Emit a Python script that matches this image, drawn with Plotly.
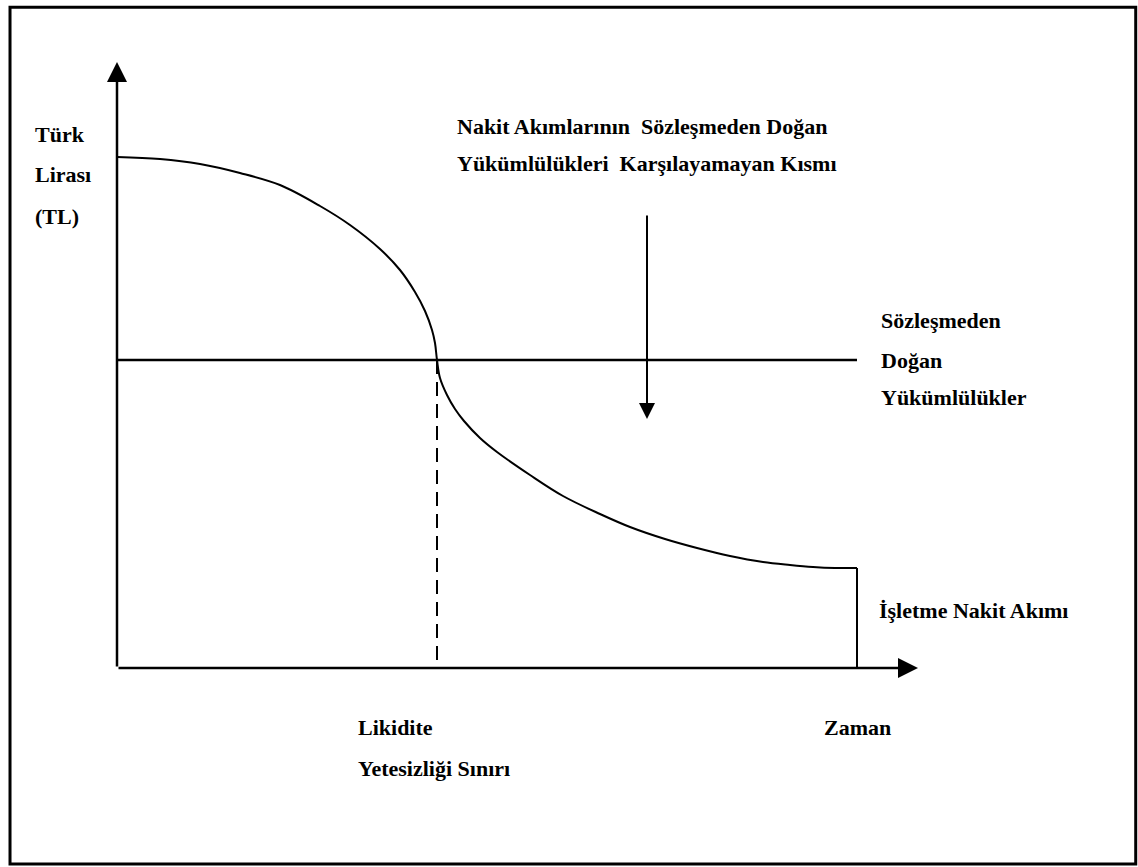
import plotly.graph_objects as go

# Operating cash flow curve (time, TL), arbitrary units
flow_time = [0.0, 4.3, 8.3, 12.3, 16.3, 20.3, 23.3, 26.3, 28.3, 29.8, 30.8, 31.5, 31.8, 32.0,
             32.3, 33.0, 33.8, 34.7, 36.3, 38.0, 41.3, 44.6, 48.3, 51.3, 54.8, 58.0,
             61.3, 64.6, 67.3, 69.6, 71.8, 74.0]
flow_tl = [51.1, 50.9, 50.4, 49.5, 48.3, 46.2, 44.3, 41.9, 39.8, 37.6, 35.7, 33.8, 32.5, 30.8,
           29.0, 27.3, 25.9, 24.7, 23.0, 21.6, 19.3, 17.2, 15.4, 14.1, 12.9, 12.0,
           11.2, 10.6, 10.3, 10.1, 10.0, 10.0]

obligation_level = 30.8      # contractual obligations (flat line)
time_end = 74.0              # end of the horizon
liquidity_limit = 32.0       # where cash flow crosses obligations
x_axis_end = 80.1
y_axis_end = 60.6
gap_arrow_x = 53.0
gap_arrow_top = 45.4
gap_arrow_tip = 24.9

FONT = dict(family="Liberation Serif", size=22, color="black", weight="bold")
SP = "\u00a0"

fig = go.Figure()

# cash flow curve + vertical drop at the end
fig.add_trace(go.Scatter(x=flow_time, y=flow_tl, mode="lines",
                         line=dict(color="black", width=2, shape="spline", smoothing=1.0)))
fig.add_trace(go.Scatter(x=[time_end, time_end], y=[flow_tl[-1], 0], mode="lines",
                         line=dict(color="black", width=2)))

# contractual obligations line
fig.add_trace(go.Scatter(x=[0, time_end], y=[obligation_level, obligation_level],
                         mode="lines", line=dict(color="black", width=2.5)))

# liquidity limit (dashed)
fig.add_trace(go.Scatter(x=[liquidity_limit, liquidity_limit], y=[obligation_level, 0],
                         mode="lines", line=dict(color="black", width=2, dash="14px,8px")))

arrow = dict(showarrow=True, text="", axref="x", ayref="y", xref="x", yref="y",
             arrowhead=2, arrowsize=1.6, arrowcolor="black")

annotations = [
    dict(x=0, y=y_axis_end, ax=0, ay=0, arrowwidth=2.5, **arrow),
    dict(x=x_axis_end, y=0, ax=0, ay=0, arrowwidth=2.5, **arrow),
    dict(x=gap_arrow_x, y=gap_arrow_tip, ax=gap_arrow_x, ay=gap_arrow_top,
         arrowwidth=2, **arrow),
]

labels = [
    ("Türk", -8.4, 53.4),
    ("Lirası", -8.4, 49.4),
    ("(TL)", -8.4, 45.2),
    (f"Nakit Akımlarının{SP}{SP}Sözleşmeden Doğan", 33.8, 54.2),
    (f"Yükümlülükleri{SP}{SP}Karşılayamayan Kısmı", 33.8, 50.5),
    ("Sözleşmeden", 76.2, 34.8),
    ("Doğan", 76.2, 30.8),
    ("Yükümlülükler", 76.2, 27.1),
    ("İşletme Nakit Akımı", 76.0, 5.8),
    ("Likidite", 23.9, -5.9),
    ("Yetesizliği Sınırı", 23.9, -10.0),
    ("Zaman", 70.5, -5.9),
]
for text, x, y in labels:
    annotations.append(dict(text=text, x=x, y=y, xref="x", yref="y", showarrow=False,
                            xanchor="left", yanchor="middle", font=FONT))

fig.update_layout(
    width=1138, height=867,
    margin=dict(l=0, r=0, t=0, b=0),
    paper_bgcolor="white", plot_bgcolor="white",
    showlegend=False,
    xaxis=dict(range=[-11.7, 102.1], visible=False, fixedrange=True),
    yaxis=dict(range=[-19.9, 66.8], visible=False, fixedrange=True),
    annotations=annotations,
    shapes=[dict(type="rect", xref="paper", yref="paper",
                 x0=0.0088, x1=0.998, y0=0.0035, y1=0.9915,
                 line=dict(color="black", width=3))],
)

# drop the default page margin so the figure sits flush in the window
fig.write_html("out.html", config={"displayModeBar": False},
               post_script="document.body.style.margin='0';")
